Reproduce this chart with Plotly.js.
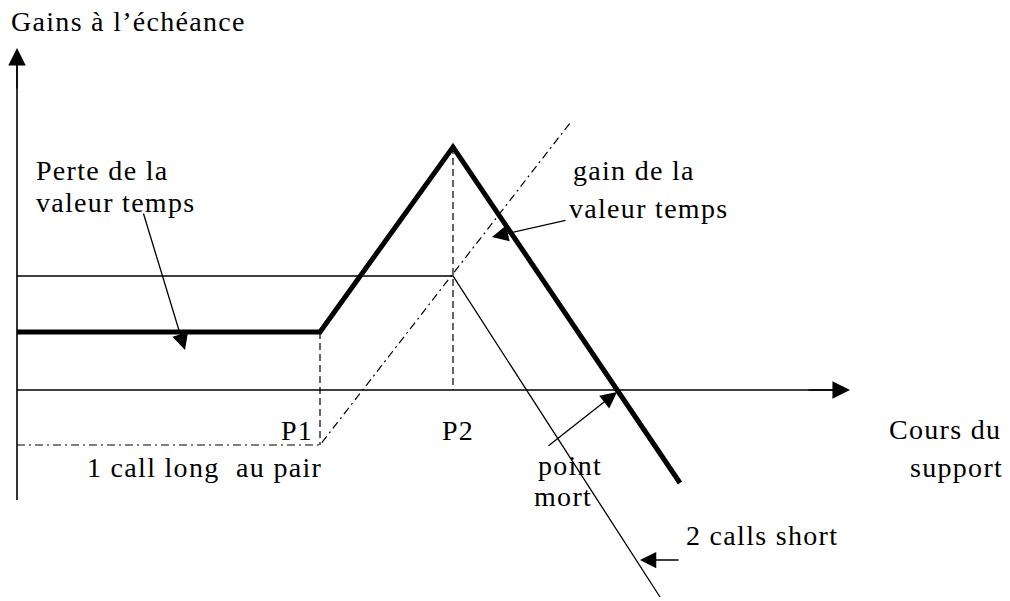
<!DOCTYPE html>
<html>
<head>
<meta charset="utf-8">
<script src="https://cdn.plot.ly/plotly-3.0.1.min.js"></script>
<style>html,body{margin:0;padding:0;background:#fff;}#chart{width:1010px;height:601px;}
.annotation-text{letter-spacing:1.3px;}</style>
</head>
<body>
<div id="chart"></div>
<script>
// Diagram units: origin at the axes crossing, x = price of the underlying, y = payoff
var P1 = 303, P2 = 436;
// Net payoff (thick line)
var netX = [0, P1, P2, 663];
var netY = [58, 58, 243, -93];
// 2 calls short (thin line)
var shortX = [0, P2, 643];
var shortY = [114, 114, -207];
// 1 call long at the money (dash-dot line)
var longX = [0, P1, 553];
var longY = [-55, -55, 267];
// Dashed guides
var guide1X = [P1, P1], guide1Y = [58, -55];
var guide2X = [P2, P2], guide2Y = [243, 0];
// Axes
var yAxisX = [0, 0], yAxisY = [-110, 330];
var xAxisX = [0, 820], xAxisY = [0, 0];

var F = "Liberation Serif, Times New Roman, serif";
var FS = 28;

var traces = [
  {x: yAxisX, y: yAxisY, mode: 'lines', line: {color: '#000', width: 1.6}},
  {x: xAxisX, y: xAxisY, mode: 'lines', line: {color: '#000', width: 1.6}},
  {x: shortX, y: shortY, mode: 'lines', line: {color: '#000', width: 1.3}},
  {x: longX, y: longY, mode: 'lines', line: {color: '#000', width: 1.2, dash: '8px,4px,2px,4px'}},
  {x: guide1X, y: guide1Y, mode: 'lines', line: {color: '#000', width: 1.2, dash: '7px,4px'}},
  {x: guide2X, y: guide2Y, mode: 'lines', line: {color: '#000', width: 1.2, dash: '7px,4px'}},
  {x: netX, y: netY, mode: 'lines', line: {color: '#000', width: 5}}
];

function txt(t, x, y, xa) {
  return {text: t, x: x, y: y, xref: 'x', yref: 'y', showarrow: false,
    xanchor: xa || 'left', yanchor: 'middle', font: {family: F, size: FS, color: '#000'}};
}
function arr(x, y, ax, ay, size) {
  return {text: '', x: x, y: y, ax: ax, ay: ay, xref: 'x', yref: 'y', axref: 'x', ayref: 'y',
    showarrow: true, arrowhead: 2, arrowsize: size || 2.5, arrowwidth: 1.3, arrowcolor: '#000'};
}

var annotations = [
  // axis arrows
  arr(0, 342, 0, 300, 2.7),
  arr(833, 0, 790, 0, 2.7),
  // callouts
  arr(168, 40, 126, 178),
  arr(475, 153, 550, 170),
  arr(600, -2, 530, -57),
  arr(623, -170, 663, -170),
  // texts
  txt("Gains à l’échéance", -8, 369),
  txt("Perte de la", 17, 220),
  txt("valeur temps", 17, 188),
  txt("gain de la", 554, 220),
  txt("valeur temps", 550, 182),
  txt("P1", 298, -40, 'right'),
  txt("P2", 423, -40),
  txt("1 call long  au pair", 68, -77),
  txt("Cours du", 870, -39),
  txt("support", 891, -77),
  txt("point", 519, -75),
  txt("mort", 515, -106),
  txt("2 calls short", 667, -145)
];

var layout = {
  width: 1010, height: 601,
  margin: {l: 0, r: 0, t: 0, b: 0},
  paper_bgcolor: '#fff', plot_bgcolor: '#fff',
  showlegend: false,
  xaxis: {range: [-17, 993], visible: false, fixedrange: true},
  yaxis: {range: [-211, 390], visible: false, fixedrange: true},
  annotations: annotations
};

Plotly.newPlot('chart', traces, layout, {displayModeBar: false, staticPlot: true});
</script>
</body>
</html>
